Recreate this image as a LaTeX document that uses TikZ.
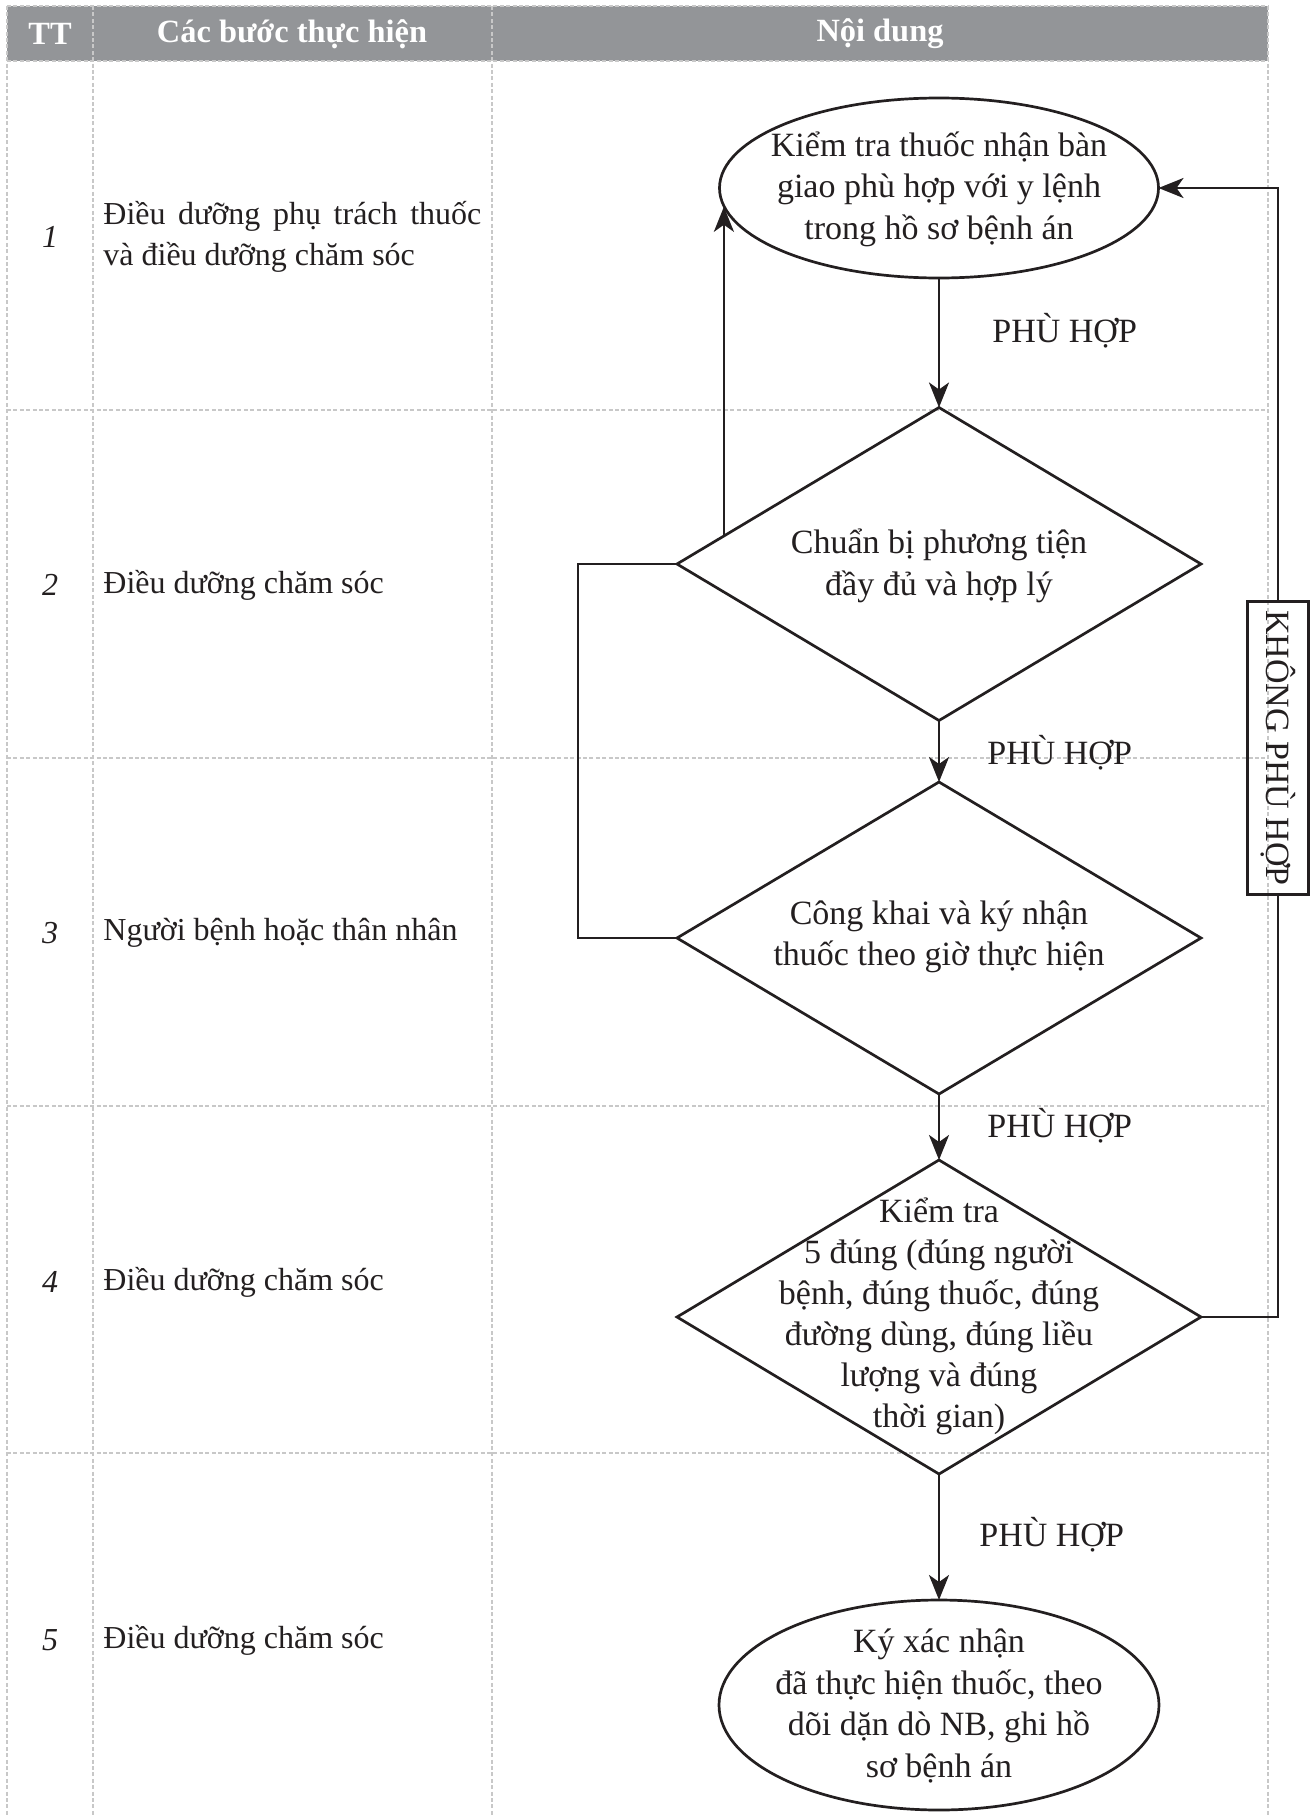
\documentclass[tikz,border=0pt]{standalone}
\usepackage{fontspec}
\setmainfont{Liberation Serif}
\usetikzlibrary{shapes.geometric,arrows.meta,calc}
\definecolor{hdr}{RGB}{147,149,152}
\definecolor{gridc}{RGB}{200,200,200}
\definecolor{ink}{RGB}{35,31,32}
\tikzset{
  gridline/.style={draw=gridc, line width=0.7pt, dash pattern=on 2pt off 1.2pt},
  hdrtxt/.style={text=white, font=\fontsize{16.2}{20}\selectfont\bfseries, inner sep=0pt},
  cell/.style={text=ink, font=\fontsize{16}{20.3}\selectfont, inner sep=0pt, anchor=west, align=left},
  num/.style={text=ink, font=\fontsize{16}{20}\selectfont\itshape, inner sep=0pt},
  flowshape/.style={draw=ink, line width=1.35pt, inner sep=0pt, outer sep=0pt},
  flowtxt/.style={text=ink, font=\fontsize{17}{20.8}\selectfont, align=center, inner sep=0pt},
  lbl/.style={text=ink, font=\fontsize{17}{20.8}\selectfont, inner sep=0pt, anchor=west},
  conn/.style={draw=ink, line width=1.35pt},
  arr/.style={draw=ink, line width=1.35pt, -{Stealth[length=12.5pt,width=10pt,inset=3.5pt]}},
}
\begin{document}
\begin{tikzpicture}[x=0.5pt, y=-0.5pt]
\useasboundingbox (0,0) rectangle (1312,1815);
% header band
\fill[hdr] (7,6) rectangle (1268,61);
% grid
\foreach \xx in {7,93,492,1268} { \draw[gridline] (\xx,6) -- (\xx,1815); }
\foreach \yy in {6,61,410,758,1106,1453} { \draw[gridline] (7,\yy) -- (1268,\yy); }
% header text
\node[hdrtxt] (h1) at (50,34) {TT};
\node[hdrtxt] (h2) at (292,34) {Các bước thực hiện};
\node[hdrtxt] (h3) at (880,34) {Nội dung};
% row numbers
\node[num] (n1) at (50,237) {1};
\node[num] (n2) at (50,585) {2};
\node[num] (n3) at (50,933) {3};
\node[num] (n4) at (50,1282) {4};
\node[num] (n5) at (50,1640) {5};
% row texts
\node[cell] (r1) at (103,237) {\hbox to 189pt{Điều\hfill dưỡng\hfill phụ\hfill trách\hfill thuốc}\\và điều dưỡng chăm sóc};
\node[cell] (r2) at (103,585) {Điều dưỡng chăm sóc};
\node[cell] (r3) at (103,933) {Người bệnh hoặc thân nhân};
\node[cell] (r4) at (103,1282) {Điều dưỡng chăm sóc};
\node[cell] (r5) at (103,1640) {Điều dưỡng chăm sóc};
% flow shapes
\node[flowshape, ellipse, minimum width=219.5pt, minimum height=90pt] (e1) at (939,188) {};
\node[flowshape, diamond, minimum width=262pt, minimum height=156.5pt] (d1) at (939,564) {};
\node[flowshape, diamond, minimum width=262pt, minimum height=156pt] (d2) at (939,938) {};
\node[flowshape, diamond, minimum width=262pt, minimum height=157pt] (d3) at (939,1317) {};
\node[flowshape, ellipse, minimum width=220pt, minimum height=105pt] (e2) at (939,1705) {};
% flow texts
\node[flowtxt] (t1) at (939,189) {Kiểm tra thuốc nhận bàn\\giao phù hợp với y lệnh\\trong hồ sơ bệnh án};
\node[flowtxt] (t2) at (939,566) {Chuẩn bị phương tiện\\đầy đủ và hợp lý};
\node[flowtxt] (t3) at (939,937) {Công khai và ký nhận\\thuốc theo giờ thực hiện};
\node[flowtxt, font=\fontsize{17}{20.5}\selectfont] (t4) at (939,1316) {Kiểm tra\\5 đúng (đúng người\\bệnh, đúng thuốc, đúng\\đường dùng, đúng liều\\lượng và đúng\\thời gian)};
\node[flowtxt] (t5) at (939,1706) {Ký xác nhận\\đã thực hiện thuốc, theo\\dõi dặn dò NB, ghi hồ\\sơ bệnh án};
% main arrows
\draw[arr] (e1.south) -- (d1.north);
\draw[arr] (d1.south) -- (d2.north);
\draw[arr] (d2.south) -- (d3.north);
\draw[arr] (d3.south) -- (e2.north);
% labels
\node[lbl] (p1) at (992,331) {PHÙ HỢP};
\node[lbl] (p2) at (987,753) {PHÙ HỢP};
\node[lbl] (p3) at (987,1126) {PHÙ HỢP};
\node[lbl] (p4) at (979,1535) {PHÙ HỢP};
% left return arrow
\coordinate (dl1) at ($(d1.west)!0.179!(d1.north)$);
\draw[arr] (dl1) -- (dl1 |- e1.185);
% outer left bracket
\draw[conn] (d1.west) -- ++(-99,0) |- (d2.west);
% right loop
\node[flowshape, rotate=-90, minimum width=146.5pt, minimum height=30.5pt, font=\fontsize{17}{20.8}\selectfont, text=ink] (kb) at (1278,748) {KHÔNG PHÙ HỢP};
\draw[conn] (d3.east) -| (kb.east);
\draw[arr] (kb.west) |- (e1.east);
\end{tikzpicture}
\end{document}
